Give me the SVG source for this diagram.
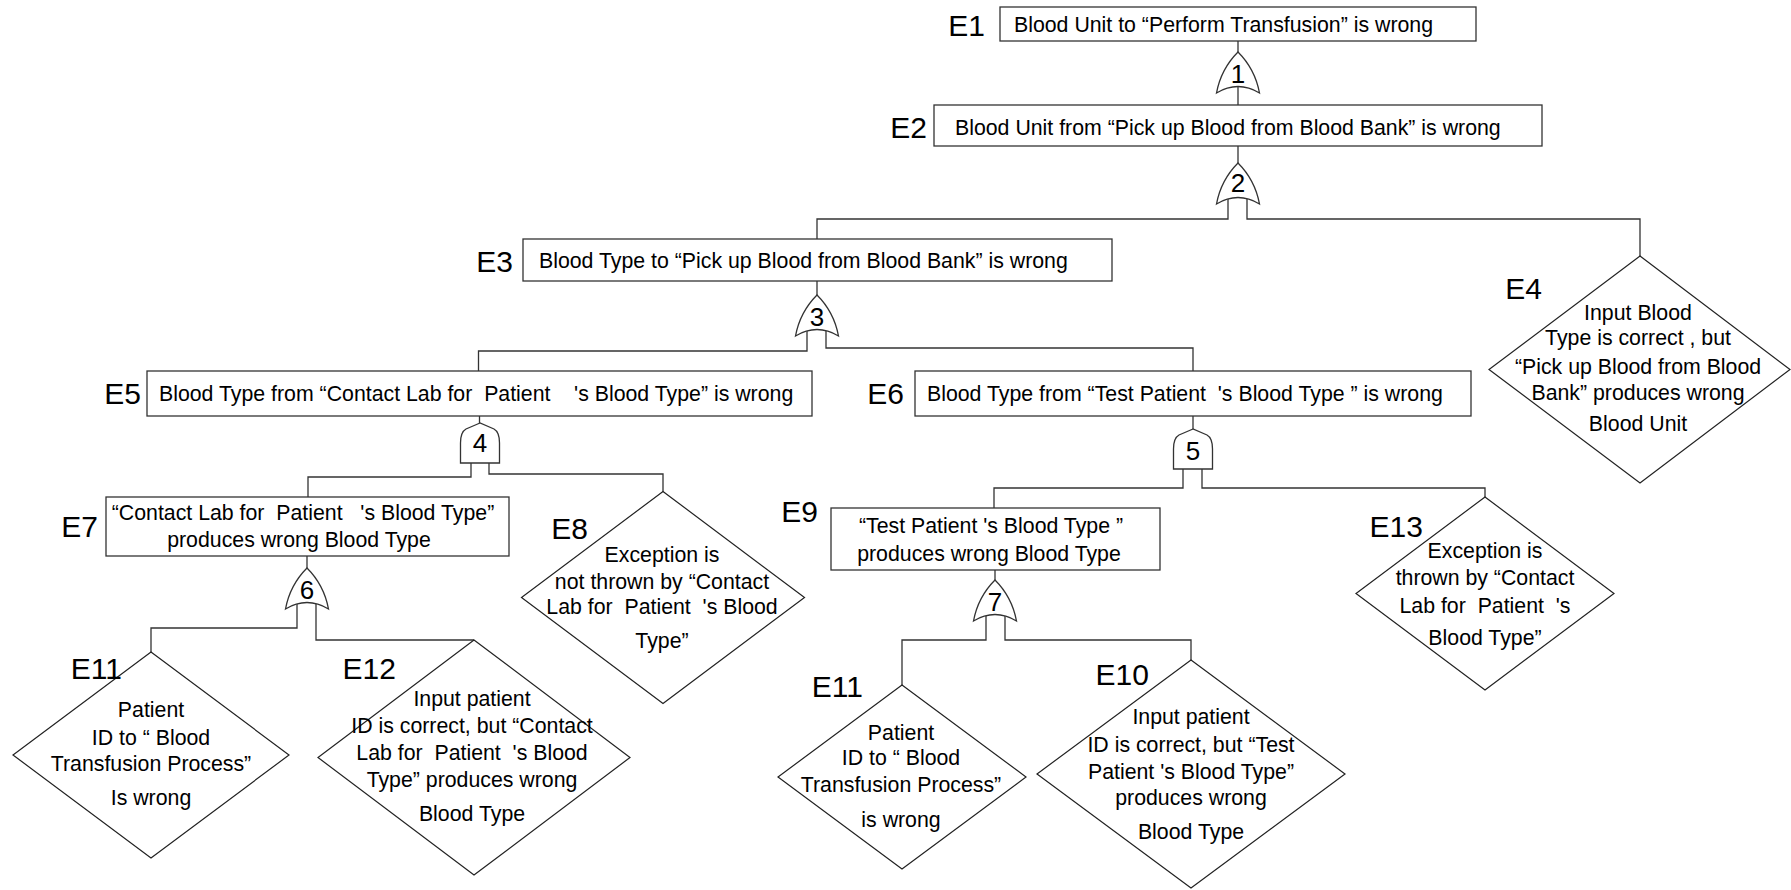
<svg xmlns="http://www.w3.org/2000/svg" width="1791" height="890" viewBox="0 0 1791 890">
<style>
.ln{fill:none;stroke:#333;stroke-width:1.3}
.bx{fill:#fff;stroke:#333;stroke-width:1.3}
.dm{fill:#fff;stroke:#222;stroke-width:1.2}
.gt{fill:#fff;stroke:#333;stroke-width:1.3}
.t{font-family:"Liberation Sans",Arial,sans-serif;font-size:21.3px;fill:#000;white-space:pre}
.c{text-anchor:middle}
.lb{font-family:"Liberation Sans",Arial,sans-serif;font-size:30px;fill:#000;text-anchor:end}
.gn{font-family:"Liberation Sans",Arial,sans-serif;font-size:26px;fill:#000;text-anchor:middle}
</style>
<defs>
<path id="or" d="M0,0 Q-17,17 -21.5,41 Q0,28 21.5,41 Q17,17 0,0 Z"/>
<path id="and" d="M0,0 L-14,6 Q-19.5,9 -19.5,20 V40 H19.5 V20 Q19.5,9 14,6 Z"/>
</defs>
<rect width="1791" height="890" fill="#fff"/>

<g id="connectors" class="ln">
<path d="M1238,41 V60"/>
<path d="M1238,82 V105"/>
<path d="M1238,146 V170"/>
<path d="M1228,193 V219 H817 V239"/>
<path d="M1247,193 V219 H1640 V256"/>
<path d="M817,281 V300"/>
<path d="M807,325 V351 H478.5 V371"/>
<path d="M826,325 V348 H1193 V371"/>
<path d="M479.5,416 V430"/>
<path d="M471,455 V477 H308 V497"/>
<path d="M489,455 V474 H663 V492"/>
<path d="M1193,416 V435"/>
<path d="M1183,460 V488 H994 V508"/>
<path d="M1202,460 V488 H1485 V497"/>
<path d="M307,556 V575"/>
<path d="M297,598 V628 H151 V652"/>
<path d="M316,598 V640 H474"/>
<path d="M995,570 V585"/>
<path d="M986,610 V640 H902 V685"/>
<path d="M1005,610 V640 H1191 V660"/>
</g>

<g id="gate1"><use href="#or" class="gt" x="1238" y="52"/><text class="gn" x="1238" y="83">1</text></g>
<g id="gate2"><use href="#or" class="gt" x="1238" y="163"/><text class="gn" x="1238" y="192">2</text></g>
<g id="gate3"><use href="#or" class="gt" x="817" y="295"/><text class="gn" x="817" y="326">3</text></g>
<g id="gate4"><use href="#and" class="gt" x="480" y="423"/><text class="gn" x="480" y="452">4</text></g>
<g id="gate5"><use href="#and" class="gt" x="1193" y="429"/><text class="gn" x="1193" y="460">5</text></g>
<g id="gate6"><use href="#or" class="gt" x="307" y="568"/><text class="gn" x="307" y="599">6</text></g>
<g id="gate7"><use href="#or" class="gt" x="995" y="580"/><text class="gn" x="995" y="611">7</text></g>

<g id="E1">
<rect class="bx" x="1000" y="7" width="476" height="34"/>
<text class="t" x="1014" y="32">Blood Unit to “Perform Transfusion” is wrong</text>
<text class="lb" x="985" y="36">E1</text>
</g>
<g id="E2">
<rect class="bx" x="934" y="105" width="608" height="41"/>
<text class="t" x="955" y="135">Blood Unit from “Pick up Blood from Blood Bank” is wrong</text>
<text class="lb" x="927" y="138">E2</text>
</g>
<g id="E3">
<rect class="bx" x="523" y="239" width="589" height="42"/>
<text class="t" x="539" y="268">Blood Type to “Pick up Blood from Blood Bank” is wrong</text>
<text class="lb" x="513" y="272">E3</text>
</g>
<g id="E4">
<polygon class="dm" points="1640,256 1790,369.5 1640,483 1489,369.5"/>
<text class="t c" x="1638" y="320">Input Blood</text>
<text class="t c" x="1638" y="345">Type is correct , but</text>
<text class="t c" x="1638" y="374">“Pick up Blood from Blood</text>
<text class="t c" x="1638" y="400">Bank” produces wrong</text>
<text class="t c" x="1638" y="431">Blood Unit</text>
<text class="lb" x="1542" y="299">E4</text>
</g>
<g id="E5">
<rect class="bx" x="147" y="371" width="665" height="45"/>
<text class="t" x="159" y="401">Blood Type from “Contact Lab for  Patient    's Blood Type” is wrong</text>
<text class="lb" x="141" y="404">E5</text>
</g>
<g id="E6">
<rect class="bx" x="915" y="371" width="556" height="45"/>
<text class="t" x="927" y="401">Blood Type from “Test Patient  's Blood Type ” is wrong</text>
<text class="lb" x="904" y="404">E6</text>
</g>
<g id="E7">
<rect class="bx" x="106" y="497" width="403" height="59"/>
<text class="t c" x="303" y="520">“Contact Lab for  Patient   's Blood Type”</text>
<text class="t c" x="299" y="547">produces wrong Blood Type</text>
<text class="lb" x="98" y="537">E7</text>
</g>
<g id="E8">
<polygon class="dm" points="663,491.5 804.5,597.5 663,703.5 521.5,597.5"/>
<text class="t c" x="662" y="562">Exception is</text>
<text class="t c" x="662" y="589">not thrown by “Contact</text>
<text class="t c" x="662" y="614">Lab for  Patient  's Blood</text>
<text class="t c" x="662" y="648">Type”</text>
<text class="lb" x="588" y="539">E8</text>
</g>
<g id="E9">
<rect class="bx" x="831" y="508" width="329" height="62"/>
<text class="t c" x="991" y="533">“Test Patient 's Blood Type ”</text>
<text class="t c" x="989" y="561">produces wrong Blood Type</text>
<text class="lb" x="818" y="522">E9</text>
</g>
<g id="E10">
<polygon class="dm" points="1191,660 1345,774 1191,888 1037,774"/>
<text class="t c" x="1191" y="724">Input patient</text>
<text class="t c" x="1191" y="752">ID is correct, but “Test</text>
<text class="t c" x="1191" y="779">Patient 's Blood Type”</text>
<text class="t c" x="1191" y="805">produces wrong</text>
<text class="t c" x="1191" y="839">Blood Type</text>
<text class="lb" x="1149" y="685">E10</text>
</g>
<g id="E11">
<polygon class="dm" points="151,652 289,755 151,858 13,755"/>
<text class="t c" x="151" y="717">Patient</text>
<text class="t c" x="151" y="745">ID to “ Blood</text>
<text class="t c" x="151" y="771">Transfusion Process”</text>
<text class="t c" x="151" y="805">Is wrong</text>
<text class="lb" x="122" y="679">E11</text>
</g>
<g id="E11b">
<polygon class="dm" points="902,685 1026,777 902,869 778,777"/>
<text class="t c" x="901" y="740">Patient</text>
<text class="t c" x="901" y="765">ID to “ Blood</text>
<text class="t c" x="901" y="792">Transfusion Process”</text>
<text class="t c" x="901" y="827">is wrong</text>
<text class="lb" x="863" y="697">E11</text>
</g>
<g id="E12">
<polygon class="dm" points="474,640 630,757.5 474,875 318,757.5"/>
<text class="t c" x="472" y="706">Input patient</text>
<text class="t c" x="472" y="733">ID is correct, but “Contact</text>
<text class="t c" x="472" y="760">Lab for  Patient  's Blood</text>
<text class="t c" x="472" y="787">Type” produces wrong</text>
<text class="t c" x="472" y="821">Blood Type</text>
<text class="lb" x="396" y="679">E12</text>
</g>
<g id="E13">
<polygon class="dm" points="1485,497 1614,593.5 1485,690 1356,593.5"/>
<text class="t c" x="1485" y="558">Exception is</text>
<text class="t c" x="1485" y="585">thrown by “Contact</text>
<text class="t c" x="1485" y="613">Lab for  Patient  's</text>
<text class="t c" x="1485" y="645">Blood Type”</text>
<text class="lb" x="1423" y="537">E13</text>
</g>
</svg>
